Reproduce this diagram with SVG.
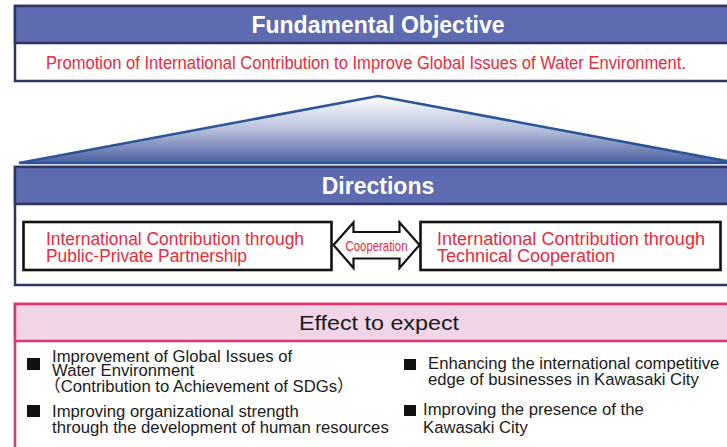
<svg xmlns="http://www.w3.org/2000/svg" width="727" height="447" viewBox="0 0 727 447">
  <style>
    .panel { fill: #ffffff; stroke: #2f3463; stroke-width: 2.5; }
    .head { fill: #5f6bb0; stroke: #2f3463; stroke-width: 2.5; }
    .title { font-family: "Liberation Sans", Arial, sans-serif; font-weight: bold; font-size: 23px; fill: #ffffff; text-anchor: middle; }
    .red { font-family: "Liberation Sans", Arial, sans-serif; fill: #ec2a3d; }
    .item { fill: #ffffff; stroke: #111111; stroke-width: 2.6; }
    .fx { font-family: "Liberation Sans", Arial, "Noto Sans CJK JP", sans-serif; font-size: 16.7px; fill: #1a1a1a; }
    .bullet { fill: #111111; }
  </style>
  <defs>
    <linearGradient id="pyramidFill" x1="0" y1="0" x2="0" y2="1">
      <stop offset="0" stop-color="#ffffff"/>
      <stop offset="0.5" stop-color="#b7bfdc"/>
      <stop offset="1" stop-color="#4b60a0"/>
    </linearGradient>
  </defs>

  <!-- Fundamental objective -->
  <g id="objective">
    <rect class="panel" x="15" y="6" width="740" height="75"/>
    <rect class="head" x="15" y="6" width="740" height="37"/>
    <text class="title" x="378" y="33">Fundamental Objective</text>
    <text class="red" x="46" y="69" font-size="17.5" textLength="640" lengthAdjust="spacingAndGlyphs">Promotion of International Contribution to Improve Global Issues of Water Environment.</text>
  </g>

  <!-- Pyramid between objective and directions -->
  <g id="pyramid">
    <polygon points="19,163 378,96 737,163" fill="url(#pyramidFill)" stroke="#2c5596" stroke-width="2.5" stroke-linejoin="miter"/>
  </g>

  <!-- Directions -->
  <g id="directions">
    <rect class="panel" x="15" y="167" width="740" height="118"/>
    <rect class="head" x="15" y="167" width="740" height="37"/>
    <text class="title" x="378" y="194">Directions</text>
  </g>

  <g id="ppp">
    <rect class="item" x="23.5" y="222" width="308" height="48"/>
    <text class="red" x="46" y="245" font-size="17.5" textLength="258" lengthAdjust="spacingAndGlyphs">International Contribution through</text>
    <text class="red" x="46" y="262" font-size="17.5" textLength="201" lengthAdjust="spacingAndGlyphs">Public-Private Partnership</text>
  </g>

  <g id="technical">
    <rect class="item" x="420.5" y="222" width="300" height="48"/>
    <text class="red" x="437" y="245" font-size="18" textLength="268" lengthAdjust="spacingAndGlyphs">International Contribution through</text>
    <text class="red" x="437" y="262" font-size="18">Technical Cooperation</text>
  </g>

  <!-- Two-way cooperation arrow -->
  <g id="connectors">
    <polygon points="333.5,245 353.5,222.5 353.5,232 399.5,232 399.5,222.5 419.5,245 399.5,268 399.5,258.5 353.5,258.5 353.5,268" fill="#ffffff" stroke="#111111" stroke-width="2.2" stroke-linejoin="miter"/>
    <text class="red" x="376.5" y="251" font-size="14.5" text-anchor="middle" textLength="62" lengthAdjust="spacingAndGlyphs">Cooperation</text>
  </g>

  <!-- Expected effects -->
  <g id="effects">
    <rect x="15" y="304" width="740" height="160" fill="#ffffff" stroke="#e5336d" stroke-width="2.5"/>
    <rect x="15" y="304" width="740" height="37" fill="#f0d4e7" stroke="#e5336d" stroke-width="2.5"/>
    <text x="379" y="330" font-family="Liberation Sans, Arial, sans-serif" font-size="21" fill="#1a1a1a" text-anchor="middle" textLength="160" lengthAdjust="spacingAndGlyphs">Effect to expect</text>

    <rect class="bullet" x="27" y="358" width="13" height="12"/>
    <text class="fx" x="52" y="362">Improvement of Global Issues of</text>
    <text class="fx" x="52" y="376">Water Environment</text>
    <text class="fx" x="44" y="392">（Contribution to Achievement of SDGs）</text>

    <rect class="bullet" x="27" y="405" width="13" height="12"/>
    <text class="fx" x="52" y="417">Improving organizational strength</text>
    <text class="fx" x="52" y="433">through the development of human resources</text>

    <rect class="bullet" x="404" y="359" width="12" height="11"/>
    <text class="fx" x="428" y="369">Enhancing the international competitive</text>
    <text class="fx" x="428" y="385">edge of businesses in Kawasaki City</text>

    <rect class="bullet" x="404" y="405" width="12" height="11"/>
    <text class="fx" x="423" y="415">Improving the presence of the</text>
    <text class="fx" x="423" y="433">Kawasaki City</text>
  </g>
</svg>
